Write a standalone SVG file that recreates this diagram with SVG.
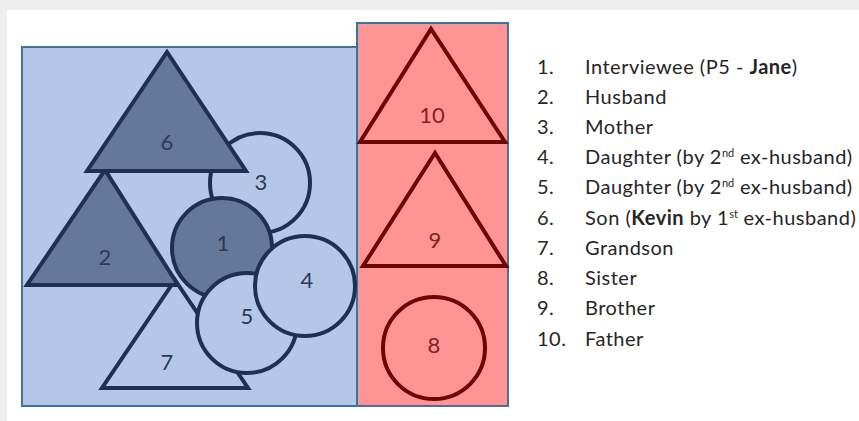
<svg xmlns="http://www.w3.org/2000/svg" width="859" height="421" viewBox="0 0 859 421">
<style>
.lt{fill:#B4C7E7;stroke:#1F2F4F;stroke-width:4;stroke-linejoin:miter}
.dk{fill:#64789A;stroke:#1F2F4F;stroke-width:4;stroke-linejoin:miter}
.rd{fill:#FF9494;stroke:#6B0606;stroke-width:4;stroke-linejoin:miter}
.bl{font-family:Lato,"Liberation Sans",sans-serif;font-size:22px;fill:#2B3858;text-anchor:middle}
.rl{font-family:Lato,"Liberation Sans",sans-serif;font-size:22px;fill:#7E2424;text-anchor:middle}
.lg{font-family:Lato,"Liberation Sans",sans-serif;font-size:20px;letter-spacing:0.5px;fill:#262626}
.sup{font-size:11px;letter-spacing:0}
</style>
<rect x="0" y="0" width="859" height="421" fill="#EEEEEE"/>
<rect x="7" y="10" width="852" height="411" fill="#FFFFFF"/>
<g id="panel-left">
<rect x="22" y="47" width="335" height="359" fill="#B4C7E7" stroke="#41719C" stroke-width="2"/>
</g>
<g id="panel-right">
<rect x="357" y="23" width="151" height="383" fill="#FF9494" stroke="#41719C" stroke-width="2"/>
</g>
<g id="node7"><polygon class="lt" points="102,388 248,388 175,280"/><text class="bl" x="167" y="370">7</text></g>
<g id="node2"><polygon class="dk" points="27,285 178,285 105,170"/><text class="bl" x="105" y="265">2</text></g>
<g id="node3"><circle class="lt" cx="260" cy="183" r="50"/><text class="bl" x="261" y="190">3</text></g>
<g id="node6"><polygon class="dk" points="87,171 246,171 167,52"/><text class="bl" x="167" y="150">6</text></g>
<g id="node1"><circle class="dk" cx="222" cy="248" r="50"/><text class="bl" x="223" y="251">1</text></g>
<g id="node5"><circle class="lt" cx="247" cy="323" r="50"/><text class="bl" x="247" y="324">5</text></g>
<g id="node4"><circle class="lt" cx="305" cy="286" r="50"/><text class="bl" x="307" y="288">4</text></g>
<g id="node10"><polygon class="rd" points="360,142 505,142 431,29"/><text class="rl" x="432" y="123">10</text></g>
<g id="node9"><polygon class="rd" points="363,266 506,266 435,153"/><text class="rl" x="435" y="248">9</text></g>
<g id="node8"><circle class="rd" cx="434" cy="348" r="51"/><text class="rl" x="434" y="353">8</text></g>
<g id="legend" class="lg">
<text x="537" y="74">1.</text><text x="585" y="74">Interviewee (P5 - <tspan font-weight="bold">Jane</tspan>)</text>
<text x="537" y="104">2.</text><text x="585" y="104">Husband</text>
<text x="537" y="134">3.</text><text x="585" y="134">Mother</text>
<text x="537" y="164">4.</text><text x="585" y="164">Daughter (by 2<tspan class="sup" dy="-7">nd</tspan><tspan dy="7"> ex-husband)</tspan></text>
<text x="537" y="194">5.</text><text x="585" y="194">Daughter (by 2<tspan class="sup" dy="-7">nd</tspan><tspan dy="7"> ex-husband)</tspan></text>
<text x="537" y="225">6.</text><text x="585" y="225">Son (<tspan font-weight="bold">Kevin</tspan> by 1<tspan class="sup" dy="-7">st</tspan><tspan dy="7"> ex-husband)</tspan></text>
<text x="537" y="255">7.</text><text x="585" y="255">Grandson</text>
<text x="537" y="285">8.</text><text x="585" y="285">Sister</text>
<text x="537" y="315">9.</text><text x="585" y="315">Brother</text>
<text x="537" y="346">10.</text><text x="585" y="346">Father</text>
</g>
</svg>
